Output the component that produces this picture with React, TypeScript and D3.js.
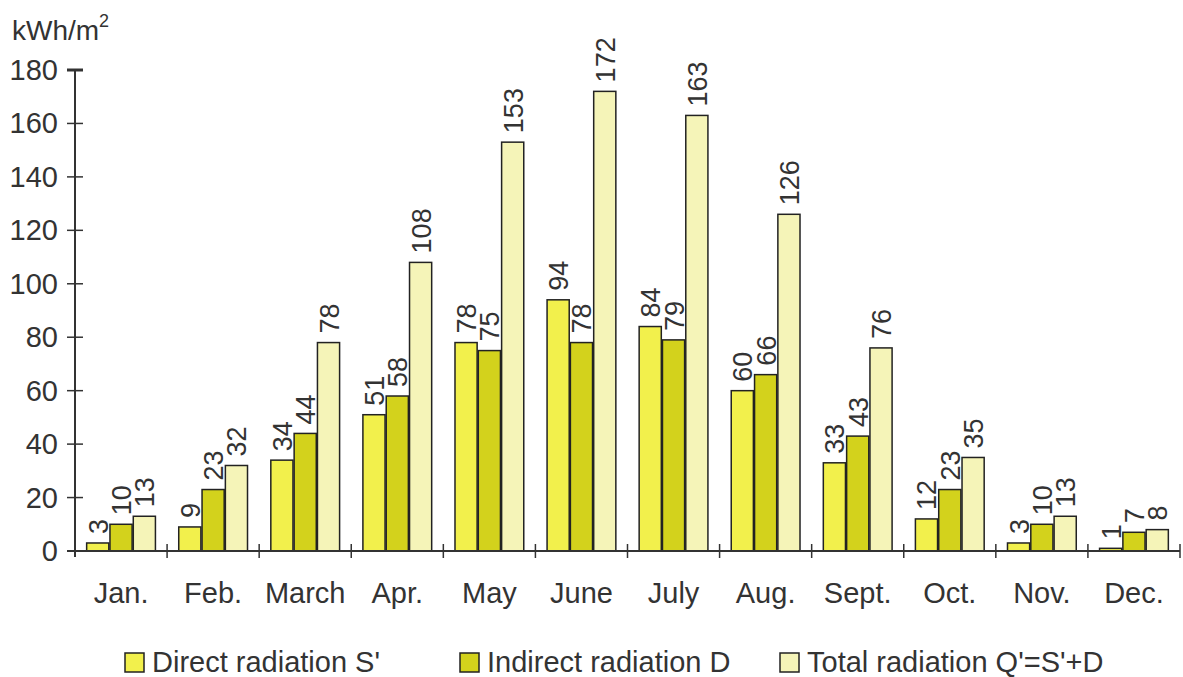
import React from "react";
import * as d3 from "d3";

const months = ["Jan.", "Feb.", "March", "Apr.", "May", "June", "July", "Aug.", "Sept.", "Oct.", "Nov.", "Dec."];
const direct = [3, 9, 34, 51, 78, 94, 84, 60, 33, 12, 3, 1];
const indirect = [10, 23, 44, 58, 75, 78, 79, 66, 43, 23, 10, 7];
const total = [13, 32, 78, 108, 153, 172, 163, 126, 76, 35, 13, 8];
const seriesNames = ["Direct radiation S'", "Indirect radiation D", "Total radiation Q'=S'+D"];
const yTicks = [0, 20, 40, 60, 80, 100, 120, 140, 160, 180];
const colors = ["#F2F04C", "#D3D21C", "#F5F4B8"];

export default function App() {
  const W = 1183, H = 677;
  const x0 = 75, x1 = 1180, yBase = 551, yTop = 70;
  const x = d3.scaleBand<string>().domain(months).range([x0, x1]).paddingInner(0).paddingOuter(0);
  const inner = d3.scaleBand<number>().domain([0, 1, 2]).range([0, x.bandwidth()]).paddingOuter(0.5).paddingInner(0.05);
  const y = d3.scaleLinear().domain([0, 180]).range([yBase, yTop]);
  const series = [direct, indirect, total];
  const font = "'Liberation Sans', Arial, sans-serif";
  const ink = "#333";
  const legendX = [125, 460, 780];
  return (
    <svg width={W} height={H} style={{ position: "absolute", left: 0, top: 0, background: "#fff" }} fontFamily={font}>
      <text x={12} y={40} fontSize={28} fill={ink}>kWh/m<tspan dy={-13} fontSize={18}>2</tspan></text>
      {/* bars */}
      {months.map((m, i) => (
        <g key={m}>
          {series.map((s, k) => {
            const bx = (x(m) as number) + (inner(k) as number);
            const bw = inner.bandwidth();
            const top = y(s[i]);
            return (
              <g key={k}>
                <rect x={bx} y={top} width={bw} height={yBase - top} fill={colors[k]} stroke="#222" strokeWidth={1.5} />
                <text transform={`translate(${bx + bw / 2 + 1},${top - 9}) rotate(-90)`} fontSize={27} fill={ink} dominantBaseline="central">{s[i]}</text>
              </g>
            );
          })}
          <text x={(x(m) as number) + x.bandwidth() / 2} y={603} fontSize={29} fill={ink} textAnchor="middle">{m}</text>
        </g>
      ))}
      {/* y axis */}
      <line x1={x0} x2={x0} y1={yTop} y2={yBase + 6} stroke={ink} strokeWidth={2} />
      {yTicks.map(t => (
        <g key={t}>
          <line x1={x0 - 8} x2={x0 + 8} y1={y(t)} y2={y(t)} stroke={ink} strokeWidth={t === 180 ? 3 : 1.5} />
          <text x={x0 - 17} y={y(t)} fontSize={29} fill={ink} textAnchor="end" dominantBaseline="central">{t}</text>
        </g>
      ))}
      {/* x axis */}
      <line x1={x0 - 8} x2={x1} y1={yBase} y2={yBase} stroke={ink} strokeWidth={2} />
      {months.map((m, i) => (
        <line key={m} x1={(x(m) as number) + x.bandwidth()} x2={(x(m) as number) + x.bandwidth()} y1={yBase - 7} y2={yBase + 7} stroke={ink} strokeWidth={1.5} />
      ))}
      {/* legend */}
      {seriesNames.map((n, k) => (
        <g key={n}>
          <rect x={legendX[k]} y={653} width={19} height={19} fill={colors[k]} stroke="#222" strokeWidth={1.5} />
          <text x={legendX[k] + 27} y={672} fontSize={29} fill={ink}>{n}</text>
        </g>
      ))}
    </svg>
  );
}
